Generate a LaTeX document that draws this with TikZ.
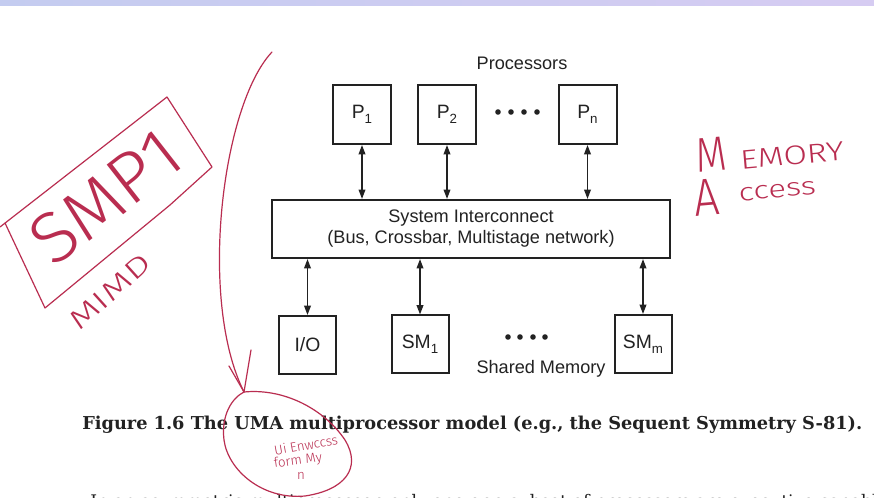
\documentclass[tikz,border=0pt]{standalone}
\usepackage{fontspec}
\usepackage{graphicx}
\setmainfont{DejaVu Serif}
\setsansfont{Liberation Sans}
\newfontfamily\hand{Fira Sans Light}
\usetikzlibrary{arrows.meta}
\definecolor{ink}{RGB}{34,34,34}
\definecolor{pen}{RGB}{185,45,80}
\definecolor{bandA}{RGB}{196,204,240}
\definecolor{bandB}{RGB}{214,204,242}
% lowered, smaller index for P_1, SM_m ...
\newcommand{\lowidx}[1]{\raisebox{-0.45ex}{\fontsize{10}{10}\selectfont #1}}

\begin{document}
\begin{tikzpicture}[x=0.75pt,y=-0.75pt,
  unitbox/.style={draw=ink,line width=1.5pt,fill=white,inner sep=0pt,
    font=\sffamily\fontsize{14.5}{14.5}\selectfont,text=ink},
  pbox/.style={unitbox,minimum width=43.5pt,minimum height=44.25pt},
  mbox/.style={unitbox,minimum width=42.75pt,minimum height=43.5pt},
  link/.style={draw=ink,line width=1.1pt,
    {Triangle[length=7pt,width=5pt]}-{Triangle[length=7pt,width=5pt]}},
  lbl/.style={font=\sffamily\fontsize{13.6}{15.75}\selectfont,text=ink,inner sep=0pt},
  dot/.style={fill=ink,draw=none},
  penstroke/.style={draw=pen,line width=0.9pt,line cap=round,line join=round},
  handtext/.style={text=pen,inner sep=0pt,font=\hand},
  scribble/.style={text=pen,inner sep=0pt,font=\hand\fontsize{10}{10}\selectfont}
]
\useasboundingbox (0,0) rectangle (874,498);
\clip (0,0) rectangle (874,498);
\fill[white] (0,0) rectangle (874,498);
\shade[left color=bandA,right color=bandB] (0,0) rectangle (874,6);

% processors
\node[pbox] (p1) at (362,114.5) {P\lowidx{1}};
\node[pbox] (p2) at (447,114.5) {P\lowidx{2}};
\node[pbox] (pn) at (587.5,114.5) {P\lowidx{n}};
\node[lbl,anchor=base] (proc) at (522,70) {Processors};
\foreach \x in {498,511,524,537} \fill[dot] (\x,112) circle[radius=2.8];

% interconnect
\node[lbl,draw=ink,line width=1.6pt,minimum width=298.5pt,minimum height=43.5pt,
  align=center] (bus) at (471,229)
  {System Interconnect\\(Bus, Crossbar, Multistage network)};

% I/O and shared memory modules
\node[mbox] (io) at (307.5,345) {I/O};
\node[mbox] (sm1) at (420,344.5) {SM\lowidx{1}};
\node[mbox] (smm) at (643,344) {SM\lowidx{m}};
\node[lbl,anchor=base] (shm) at (541,374) {Shared Memory};
\foreach \x in {508,520,533,545} \fill[dot] (\x,337) circle[radius=2.8];

% links
\draw[link] (p1.south) -- (p1.south |- bus.north);
\draw[link] (p2.south) -- (p2.south |- bus.north);
\draw[link] (pn.south) -- (pn.south |- bus.north);
\draw[link] (io.north |- bus.south) -- (io.north);
\draw[link] (sm1.north |- bus.south) -- (sm1.north);
\draw[link] (smm.north |- bus.south) -- (smm.north);

% caption and running text
\node[anchor=base west,inner sep=0pt,text=ink] (cap) at (82,430)
  {\resizebox{585pt}{!}{\bfseries Figure 1.6 The UMA multiprocessor model (e.g., the Sequent Symmetry S-81).}};
\node[anchor=base west,inner sep=0pt,text=ink] (body) at (90,507)
  {\fontsize{13}{13}\selectfont In an asymmetric multiprocessor, only one or a subset of processors are executive-capable.};

% pen notes
\coordinate (penstart) at (272,52);
\coordinate (tip) at (244,392);
\draw[penstroke] (penstart) .. controls (222,105) and (198,300) .. (tip);
\draw[penstroke] (229,366) -- (tip) -- (251,350);
\draw[penstroke] (tip) .. controls (285,388) and (325,410) .. (345,440)
  .. controls (362,468) and (345,490) .. (305,496)
  .. controls (262,500) and (228,470) .. (224,440)
  .. controls (221,415) and (232,398) .. (tip);
\node[scribble,rotate=10] (n1) at (306,445) {Ui Enwccss};
\node[scribble,rotate=8] (n2) at (298,461) {form My};
\node[scribble] (n3) at (301,476) {n};

\draw[penstroke] (0,227) -- (167,97) -- (212,167) -- (170,205) -- (45,308) -- (5,223);
\node[handtext,rotate=38] (smp) at (106,197) {\resizebox{128pt}{37pt}{SMP1}};
\node[handtext,rotate=42] (mimd) at (110,292) {\resizebox{74pt}{14pt}{MIMD}};

\node[handtext,anchor=base west,rotate=5] (mem) at (697,173)
  {\resizebox{23pt}{25pt}{M}\hspace{10pt}\resizebox{78pt}{14pt}{EMORY}};
\node[handtext,anchor=base west,rotate=5] (acc) at (695,217)
  {\resizebox{19pt}{27pt}{A}\hspace{15pt}\raisebox{9pt}{\resizebox{58pt}{10pt}{ccess}}};
\end{tikzpicture}
\end{document}
